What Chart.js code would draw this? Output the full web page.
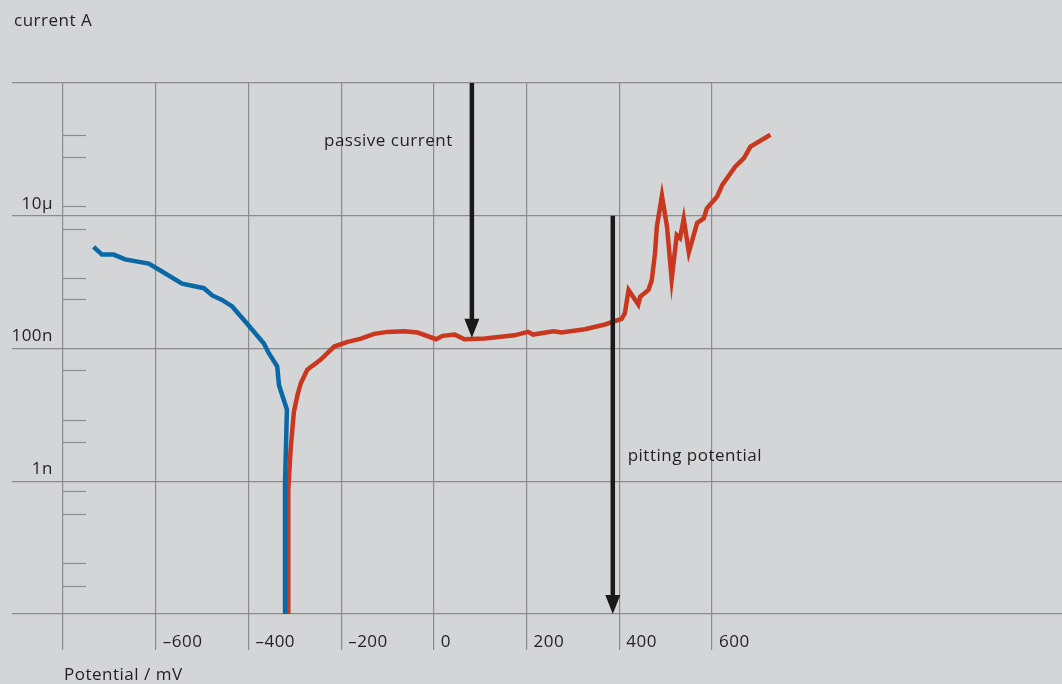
<!DOCTYPE html>
<html>
<head>
<meta charset="utf-8">
<script src="https://cdn.jsdelivr.net/npm/chart.js@4.4.0/dist/chart.umd.min.js"></script>
<style>
  html, body { margin: 0; padding: 0; background: #d4d5d7; }
  #wrap { width: 1062px; height: 684px; position: relative; }
</style>
</head>
<body>
<div id="wrap"><canvas id="grafico"></canvas></div>
<script>
// cathodic branch (blue), potential in mV, current in A
const cathodicPotential = [-734, -716, -691, -666, -615, -590, -543, -496, -478, -457, -435, -406, -367, -356, -338, -334, -317, -321, -321];
const cathodicCurrent = [3.4e-6, 2.6e-6, 2.6e-6, 2.2e-6, 1.9e-6, 1.5e-6, 9.5e-7, 8.1e-7, 6.3e-7, 5.4e-7, 4.3e-7, 2.5e-7, 1.2e-7, 8.5e-8, 5.4e-8, 2.8e-8, 1.2e-8, 9.3e-10, 1e-11];

// anodic branch (red)
const anodicPotential = [-313, -314, -309, -302, -294, -287, -273, -244, -215, -186, -157, -129, -100, -64, -35, 5, 19, 45, 66, 110, 174, 203, 214, 258, 275, 326, 369, 405, 412, 420, 441, 445, 463, 470, 477, 481, 492, 503, 513, 524, 531, 539, 550, 568, 582, 589, 611, 622, 650, 669, 683, 726];
const anodicCurrent = [1e-11, 7.4e-10, 3.0e-9, 1.1e-8, 2.0e-8, 3.0e-8, 4.8e-8, 6.8e-8, 1.07e-7, 1.26e-7, 1.41e-7, 1.66e-7, 1.78e-7, 1.82e-7, 1.74e-7, 1.38e-7, 1.55e-7, 1.62e-7, 1.38e-7, 1.41e-7, 1.58e-7, 1.78e-7, 1.62e-7, 1.82e-7, 1.74e-7, 1.95e-7, 2.3e-7, 2.8e-7, 3.4e-7, 7.6e-7, 4.6e-7, 6.0e-7, 7.6e-7, 1.07e-6, 2.7e-6, 6.8e-6, 2.0e-5, 6.8e-6, 1.1e-6, 5.1e-6, 4.6e-6, 9.0e-6, 2.8e-6, 7.8e-6, 9.1e-6, 1.29e-5, 1.95e-5, 2.9e-5, 5.5e-5, 7.4e-5, 1.1e-4, 1.66e-4];

// axes
const gridPotentials = [-800, -600, -400, -200, 0, 200, 400, 600];
const potentialTicks = [-600, -400, -200, 0, 200, 400, 600];
const potentialLabels = ['\u2013600', '\u2013400', '\u2013200', '0', '200', '400', '600'];
const gridCurrents = [1e-11, 1e-9, 1e-7, 1e-5, 1e-3];
const currentTicks = [1e-9, 1e-7, 1e-5];
const currentLabels = ['1n', '100n', '10\u00b5'];
const minorCurrents = [1.66e-4, 7.8e-5, 1.38e-5, 6.3e-6, 1.17e-6, 5.5e-7, 4.7e-8, 8.3e-9, 3.9e-9, 7.1e-10, 3.2e-10, 5.9e-11, 2.6e-11];

// arrows: [potential, from current, to current]
const passiveArrow = [82, 1e-3, 1.45e-7];
const pittingArrow = [386, 1e-5, 1e-11];
// notes: [potential, current, text]
const passiveNote = [-237, 1.35e-4, 'passive current'];
const pittingNote = [418, 2.4e-9, 'pitting potential'];

const gridColor = '#8c8c8e';
const textColor = '#231f20';
const font = '17px "Open Sans", sans-serif';

function toPoints(xs, ys) {
  return xs.map((v, i) => ({ x: v, y: ys[i] }));
}

function drawArrow(ctx, x, y, a) {
  const px = x.getPixelForValue(a[0]);
  const p1 = y.getPixelForValue(a[1]);
  const p2 = y.getPixelForValue(a[2]);
  ctx.strokeStyle = '#1a1a1a';
  ctx.fillStyle = '#1a1a1a';
  ctx.lineWidth = 4.5;
  ctx.beginPath();
  ctx.moveTo(px, p1);
  ctx.lineTo(px, p2 - 15);
  ctx.stroke();
  ctx.beginPath();
  ctx.moveTo(px - 7.5, p2 - 19);
  ctx.lineTo(px + 7.5, p2 - 19);
  ctx.lineTo(px, p2);
  ctx.closePath();
  ctx.fill();
}

const decor = {
  id: 'decor',
  afterDatasetsDraw(chart) {
    const { ctx, scales: { x, y } } = chart;
    ctx.save();
    // small ticks on the left
    ctx.strokeStyle = gridColor;
    ctx.lineWidth = 1.2;
    const x0 = x.getPixelForValue(-800);
    minorCurrents.forEach(v => {
      const py = Math.round(y.getPixelForValue(v)) + 0.5;
      ctx.beginPath();
      ctx.moveTo(x0, py);
      ctx.lineTo(x0 + 23, py);
      ctx.stroke();
    });

    drawArrow(ctx, x, y, passiveArrow);
    drawArrow(ctx, x, y, pittingArrow);

    ctx.font = font;
    ctx.letterSpacing = '0.5px';
    ctx.fillStyle = textColor;
    ctx.textBaseline = 'middle';

    // tick labels
    ctx.textAlign = 'left';
    potentialTicks.forEach((v, i) => {
      ctx.fillText(potentialLabels[i], x.getPixelForValue(v) + 7, chart.chartArea.bottom + 28);
    });
    ctx.textAlign = 'right';
    currentTicks.forEach((v, i) => {
      ctx.fillText(currentLabels[i], 53, y.getPixelForValue(v) - 12);
    });

    // notes and titles
    ctx.textAlign = 'left';
    [passiveNote, pittingNote].forEach(n => {
      ctx.fillText(n[2], x.getPixelForValue(n[0]), y.getPixelForValue(n[1]));
    });
    ctx.fillText('current A', 14, 21);
    ctx.fillText('Potential / mV', 64, 675);
    ctx.restore();
  }
};

const ctx = document.getElementById('grafico').getContext('2d');
new Chart(ctx, {
  type: 'line',
  data: {
    datasets: [
      {
        label: 'cathodic',
        data: toPoints(cathodicPotential, cathodicCurrent),
        borderColor: '#0a68a6',
        borderWidth: 4.5,
        pointRadius: 0,
        tension: 0
      },
      {
        label: 'anodic',
        data: toPoints(anodicPotential, anodicCurrent),
        borderColor: '#c9381e',
        borderWidth: 4.5,
        pointRadius: 0,
        tension: 0
      }
    ]
  },
  options: {
    responsive: true,
    maintainAspectRatio: false,
    animation: false,
    layout: { padding: { left: 12, right: 0, top: 83, bottom: 34 } },
    scales: {
      x: {
        type: 'linear',
        min: -910,
        max: 1355,
        afterBuildTicks: s => { s.ticks = gridPotentials.map(v => ({ value: v })); },
        ticks: { display: false },
        border: { display: false },
        grid: { color: gridColor, lineWidth: 1.2, drawTicks: true, tickLength: 36 }
      },
      y: {
        type: 'logarithmic',
        min: 1e-11,
        max: 1e-3,
        afterBuildTicks: s => { s.ticks = gridCurrents.map(v => ({ value: v })); },
        ticks: { display: false },
        border: { display: false },
        grid: { color: gridColor, lineWidth: 1.2, drawTicks: false }
      }
    },
    plugins: {
      legend: { display: false },
      tooltip: { enabled: false }
    }
  },
  plugins: [decor]
});
</script>
</body>
</html>
